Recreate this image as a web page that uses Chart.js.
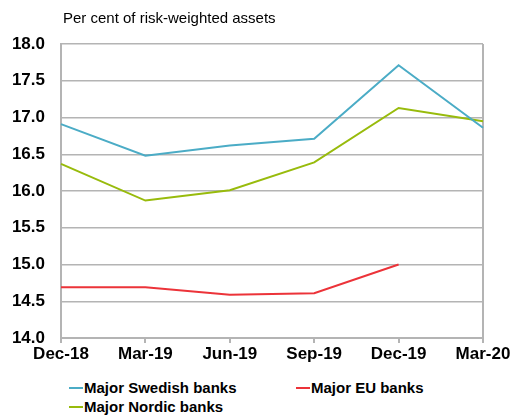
<!DOCTYPE html>
<html>
<head>
<meta charset="utf-8">
<script src="https://cdn.jsdelivr.net/npm/chart.js@4"></script>
<style>
  body { margin: 0; background: #fff; font-family: "Liberation Sans", Arial, sans-serif; }
  #wrap { position: relative; width: 513px; height: 416px; }
  #title { position: absolute; left: 63px; top: 9px; font-size: 15px; color: #000; }
  #legend { position: absolute; left: 69px; top: 379px; width: 440px; font-size: 15px; font-weight: bold; }
  .item { position: absolute; white-space: nowrap; }
  .swatch { display: inline-block; width: 14px; height: 2px; vertical-align: middle; margin-right: 1px; position: relative; top: -1px; }
</style>
</head>
<body>
<div id="wrap">
  <canvas id="myChart" width="513" height="374"></canvas>
  <div id="title">Per cent of risk-weighted assets</div>
  <div id="legend"></div>
</div>
<script>
const labels = ['Dec-18', 'Mar-19', 'Jun-19', 'Sep-19', 'Dec-19', 'Mar-20'];
const swedish = [16.91, 16.48, 16.62, 16.71, 17.71, 16.86];
const nordic = [16.37, 15.87, 16.01, 16.39, 17.13, 16.95];
const eu = [14.69, 14.69, 14.59, 14.61, 15.00, null];
const yTicks = [14.0, 14.5, 15.0, 15.5, 16.0, 16.5, 17.0, 17.5, 18.0];

const gridGray = '#b4b4b4';

document.addEventListener("DOMContentLoaded", function() {
    const ctx = document.getElementById('myChart').getContext('2d');

    const data = {
        labels: labels,
        datasets: [
            { label: 'Major Swedish banks', data: swedish, borderColor: '#4bacc6', backgroundColor: '#4bacc6' },
            { label: 'Major EU banks', data: eu, borderColor: '#ec3339', backgroundColor: '#ec3339' },
            { label: 'Major Nordic banks', data: nordic, borderColor: '#98bb0c', backgroundColor: '#98bb0c' }
        ].map(d => Object.assign(d, { borderWidth: 2, pointRadius: 0, tension: 0, fill: false }))
    };

    const tickFont = { family: '"Liberation Sans", Arial, sans-serif', size: 17, weight: 'bold' };

    new Chart(ctx, {
        type: 'line',
        data: data,
        options: {
            responsive: false,
            animation: false,
            layout: { padding: { left: 0, right: 30, top: 44, bottom: 0 } },
            plugins: { legend: { display: false }, tooltip: { enabled: false } },
            scales: {
                x: {
                    offset: false,
                    grid: {
                        color: c => (c.index === labels.length - 1 ? gridGray : 'rgba(0,0,0,0)'),
                        tickColor: gridGray,
                        tickLength: 5,
                        lineWidth: 2
                    },
                    border: { color: gridGray, width: 2 },
                    ticks: { color: '#000', font: tickFont, padding: 1, maxRotation: 0, autoSkip: false },
                    afterFit: s => { s.height = 36; }
                },
                y: {
                    min: 14, max: 18,
                    afterBuildTicks: s => { s.ticks = yTicks.map(v => ({ value: v })); },
                    grid: { color: gridGray, lineWidth: 1.5, drawTicks: false },
                    border: { color: gridGray, width: 2 },
                    ticks: { color: '#000', font: tickFont, padding: 16, callback: v => v.toFixed(1) },
                    afterFit: s => { s.width = 61; }
                }
            }
        }
    });

    const legend = document.getElementById('legend');
    const pos = [[0, 0], [227, 0], [0, 19]];
    data.datasets.forEach((d, i) => {
        const el = document.createElement('div');
        el.className = 'item';
        el.style.left = pos[i][0] + 'px';
        el.style.top = pos[i][1] + 'px';
        el.innerHTML = '<span class="swatch" style="background:' + d.borderColor + '"></span>' + d.label;
        legend.appendChild(el);
    });
});
</script>
</body>
</html>
